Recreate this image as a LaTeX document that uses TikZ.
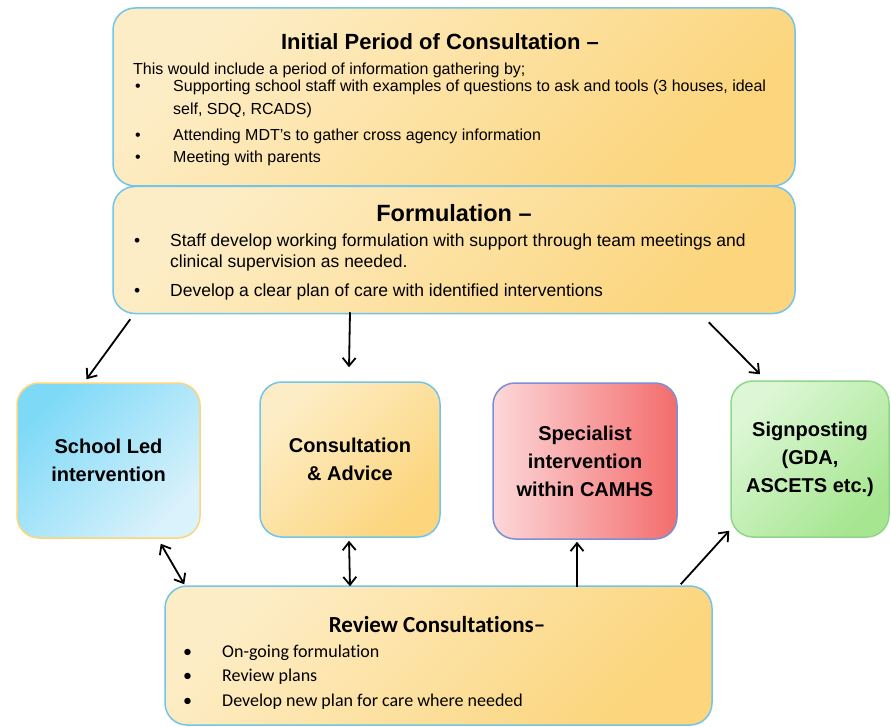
\documentclass[tikz,border=0pt]{standalone}
\usepackage{fontspec}
\setmainfont{Liberation Sans}
\newfontfamily\calfont[Ligatures=NoCommon]{Carlito}
\usetikzlibrary{arrows.meta}
\definecolor{edgeblue}{HTML}{72C4E8}
\definecolor{sandlight}{HTML}{FDEDC6}
\definecolor{sanddark}{HTML}{FCD57C}
\definecolor{skydark}{HTML}{7ED9F7}
\definecolor{skylight}{HTML}{DAF2FB}
\definecolor{rosylight}{HTML}{FCD8DA}
\definecolor{rosydark}{HTML}{F46C6C}
\definecolor{rosyedge}{HTML}{7B8FD2}
\definecolor{mintlight}{HTML}{DDF7D6}
\definecolor{mintdark}{HTML}{A6E690}
\definecolor{mintedge}{HTML}{8FD68A}
\tikzset{
panel/.style={draw=edgeblue, line width=1.5pt, rounded corners=22pt,
	left color=sandlight, right color=sanddark, shading angle=45},
headtxt/.style={anchor=base, font=\bfseries\fontsize{22}{26}\selectfont},
bodytxt/.style={anchor=base west, inner sep=0pt, font=\fontsize{16}{19}\selectfont},
boxlabel/.style={align=center, font=\bfseries\fontsize{20}{28}\selectfont},
conn/.style={line width=1.8pt, -{Straight Barb[length=8pt,width=13pt]}},
twoway/.style={line width=1.8pt, {Straight Barb[length=8pt,width=13pt]}-{Straight Barb[length=8pt,width=13pt]}}
}

\begin{document}
\begin{tikzpicture}[x=1pt,y=-1pt]
	\useasboundingbox (0,0) rectangle (891,727);
	% top boxes
	\node[panel, minimum width=682pt, minimum height=178pt] (initial) at (454,97) {};
	\node[panel, minimum width=682pt, minimum height=127pt] (formul) at (454,250) {};
	\node[headtxt] (initialhead) at (440,50) {Initial Period of Consultation –};
	\node[bodytxt] (intro) at (133,75) {This would include a period of information gathering by;};
	\node[bodytxt] (dota) at (135,92) {\textbullet};
	\node[bodytxt] (itema) at (173,92) {Supporting school staff with examples of questions to ask and tools (3 houses, ideal};
	\node[bodytxt] (itemb) at (173,115) {self, SDQ, RCADS)};
	\node[bodytxt] (dotc) at (135,141) {\textbullet};
	\node[bodytxt] (itemc) at (173,141) {Attending MDT’s to gather cross agency information};
	\node[bodytxt] (dotd) at (135,163) {\textbullet};
	\node[bodytxt] (itemd) at (173,163) {Meeting with parents};
	\node[headtxt, font=\bfseries\fontsize{23.5}{28}\selectfont] (formulhead) at (454,222) {Formulation –};
	\node[bodytxt, font=\fontsize{17.5}{20}\selectfont] (dote) at (134,247) {\textbullet};
	\node[bodytxt, font=\fontsize{17.5}{20}\selectfont] (iteme) at (170,247) {Staff develop working formulation with support through team meetings and};
	\node[bodytxt, font=\fontsize{17.5}{20}\selectfont] (itemf) at (170,268) {clinical supervision as needed.};
	\node[bodytxt, font=\fontsize{17.5}{20}\selectfont] (dotg) at (134,296) {\textbullet};
	\node[bodytxt, font=\fontsize{17.5}{20}\selectfont] (itemg) at (170,296) {Develop a clear plan of care with identified interventions};
	% the four routes
	\node[panel, draw=sanddark, left color=skydark, right color=skylight, shading angle=45, minimum width=183pt, minimum height=155pt] (school) at (108.5,460.5) {};
	\node[boxlabel] at (school) {School Led\\intervention};
	\node[panel, minimum width=180pt, minimum height=155pt] (consult) at (350,459.5) {};
	\node[boxlabel] at (consult) {Consultation\\\& Advice};
	\node[panel, draw=rosyedge, left color=rosylight, right color=rosydark, shading angle=90, minimum width=184pt, minimum height=156pt] (special) at (585,461) {};
	\node[boxlabel] at (special) {Specialist\\intervention\\within CAMHS};
	\node[panel, draw=mintedge, left color=mintlight, right color=mintdark, shading angle=45, minimum width=158pt, minimum height=156pt] (signpost) at (810,459) {};
	\node[boxlabel] at (signpost) {Signposting\\(GDA,\\ASCETS etc.)};
	% review box
	\node[panel, minimum width=547pt, minimum height=139pt] (review) at (438.5,655.5) {};
	\node[headtxt, font=\calfont\bfseries\fontsize{23}{27}\selectfont] (reviewhead) at (437,632) {Review Consultations–};
	\node[bodytxt, font=\calfont\fontsize{18}{22}\selectfont] (doth) at (183,657) {\textbullet};
	\node[bodytxt, font=\calfont\fontsize{18}{22}\selectfont] (itemh) at (222,657) {On-going formulation};
	\node[bodytxt, font=\calfont\fontsize{18}{22}\selectfont] (doti) at (183,681) {\textbullet};
	\node[bodytxt, font=\calfont\fontsize{18}{22}\selectfont] (itemi) at (222,681) {Review plans};
	\node[bodytxt, font=\calfont\fontsize{18}{22}\selectfont] (dotj) at (183,706) {\textbullet};
	\node[bodytxt, font=\calfont\fontsize{18}{22}\selectfont] (itemj) at (222,706) {Develop new plan for care where needed};
	% arrows
	\draw[conn] ([shift={(18,5)}]formul.south west) -- ([shift={(-22,-3)}]school.north);
	\draw[conn] ([yshift=2pt]formul.south -| consult.north) -- ([shift={(-1,-14)}]consult.north);
	\draw[conn] ([shift={(-87,8)}]formul.south east) -- ([shift={(-50,-6)}]signpost.north);
	\draw[twoway] ([shift={(-40,5)}]school.south east) -- ([shift={(20,-1)}]review.north west);
	\draw[twoway] ([shift={(-1,3)}]consult.south) -- ([yshift=-1pt]review.north -| consult.south);
	\draw[conn] ([shift={(-8,2)}]review.north -| special.south) -- ([shift={(-8,2)}]special.south);
	\draw[conn] ([shift={(-32,-1)}]review.north east) -- ([shift={(-1,-7)}]signpost.south west);
\end{tikzpicture}
\end{document}
